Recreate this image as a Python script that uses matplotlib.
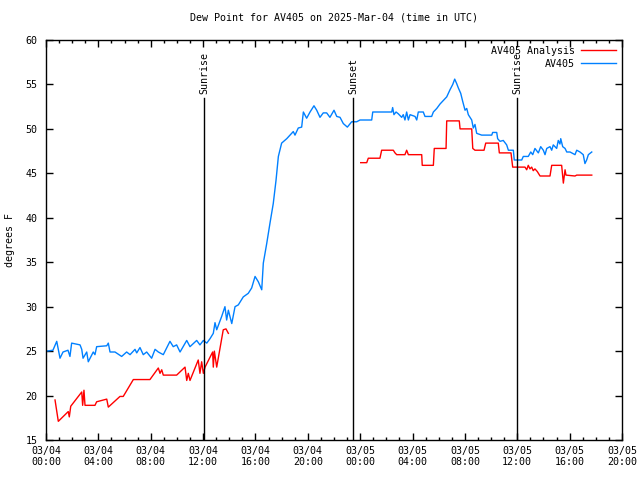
import datetime as dt
import matplotlib
matplotlib.use('Agg')
import matplotlib.pyplot as plt
import matplotlib.dates as mdates
from matplotlib.ticker import MultipleLocator

# hours after 2025-03-04 00:00 UTC
obs_hours = [0.05, 0.53, 0.82, 1.07, 1.30, 1.68, 1.83, 1.96, 2.60, 2.73, 2.83, 3.11, 3.23,
             3.61, 3.74, 3.87, 4.64, 4.76, 4.89, 5.27, 5.78, 6.16, 6.42, 6.80, 6.93, 7.18,
             7.43, 7.69, 8.07, 8.33, 8.58, 8.96, 9.47, 9.72, 9.98, 10.24, 10.75, 11.00,
             11.51, 11.76, 12.02, 12.28, 12.53, 12.78, 12.91, 13.04, 13.42, 13.67, 13.80,
             13.93, 14.19, 14.44, 14.69, 15.07, 15.45, 15.71, 15.97, 16.22, 16.48, 16.60,
             16.86, 17.11, 17.36, 17.57, 17.75, 18.00, 18.39, 18.64, 18.89, 19.02, 19.27,
             19.53, 19.66, 19.91, 20.17, 20.47, 20.68, 20.93, 21.18, 21.44, 21.69, 22.00,
             22.21, 22.46, 22.71, 23.02, 23.35, 23.73, 23.99, 24.88, 24.96, 26.41, 26.48,
             26.58, 26.74, 26.91, 27.17, 27.29, 27.42, 27.55, 27.68, 27.81, 28.19, 28.32,
             28.44, 28.82, 28.95, 29.46, 29.59, 29.85, 30.10, 30.35, 30.61, 30.86, 31.07,
             31.22, 31.37, 31.50, 31.68, 31.83, 32.01, 32.14, 32.26, 32.52, 32.64, 32.77,
             32.90, 33.28, 34.05, 34.12, 34.43, 34.50, 34.68, 34.93, 35.19, 35.32, 35.70,
             35.77, 36.34, 36.46, 36.84, 37.03, 37.18, 37.35, 37.61, 37.79, 37.99, 38.12,
             38.25, 38.50, 38.63, 38.75, 39.01, 39.13, 39.26, 39.32, 39.47, 39.65, 39.78,
             40.03, 40.16, 40.41, 40.54, 40.79, 41.04, 41.17, 41.30, 41.43, 41.69]
obs_dew = [25.0, 25.1, 26.1, 24.2, 24.9, 25.1, 24.4, 25.9, 25.7, 25.2, 24.2, 24.9, 23.8,
           24.9, 24.6, 25.5, 25.6, 25.9, 24.9, 24.9, 24.4, 24.9, 24.6, 25.2, 24.8, 25.4,
           24.6, 24.9, 24.2, 25.2, 24.9, 24.6, 26.1, 25.5, 25.7, 24.9, 26.2, 25.5,
           26.2, 25.7, 26.2, 25.9, 26.4, 27.0, 28.2, 27.4, 28.9, 30.0, 28.5,
           29.6, 28.1, 30.0, 30.2, 31.1, 31.5, 32.1, 33.4, 32.8, 31.9, 34.9,
           37.1, 39.4, 41.6, 44.2, 46.9, 48.4, 48.9, 49.3, 49.7, 49.3, 50.1,
           50.2, 51.9, 51.2, 51.9, 52.6, 52.1, 51.3, 51.8, 51.8, 51.3, 52.1,
           51.4, 51.3, 50.6, 50.2, 50.8, 50.8, 51.0, 51.0, 51.9, 51.9, 52.4,
           51.6, 51.9, 51.7, 51.3, 51.6, 51.0, 51.9, 51.0, 51.6, 51.4, 51.0,
           51.9, 51.9, 51.4, 51.4, 51.9, 52.3, 52.8, 53.2, 53.6, 54.4, 55.0,
           55.6, 55.1, 54.6, 54.0, 53.1, 52.1, 52.3, 51.6, 51.0, 50.1, 50.5,
           49.5, 49.3, 49.3, 49.6, 49.6, 48.9, 48.6, 48.7, 48.2, 47.6, 47.6,
           46.5, 46.5, 46.9, 46.9, 47.4, 47.1, 47.8, 47.3, 48.0, 47.6, 47.1,
           47.8, 48.0, 47.6, 48.2, 47.8, 48.7, 48.3, 48.9, 48.0, 47.8, 47.4,
           47.4, 47.3, 47.1, 47.6, 47.4, 47.1, 46.1, 46.5, 47.1, 47.4]

ana_hours = [0.69, 0.94, 1.70, 1.78, 1.89, 2.73, 2.80, 2.90, 2.98, 3.74, 3.87, 4.64, 4.76,
             5.65, 5.90, 6.67, 7.94, 8.58, 8.71, 8.84, 8.96, 9.98, 10.62, 10.75, 10.87,
             11.00, 11.63, 11.76, 11.89, 12.02, 12.15, 12.73, 12.78, 12.86, 13.04, 13.54,
             13.75, 13.93, 18.0,
             24.04, 24.50, 24.62, 25.51, 25.64, 26.53, 26.66, 26.79, 27.42, 27.55, 27.68,
             28.70, 28.74, 29.59, 29.66, 30.56, 30.61, 31.57, 31.63, 32.52, 32.60, 32.77,
             33.46, 33.59, 34.55, 34.63, 35.52, 35.65, 36.08, 36.59, 36.72, 36.84, 36.97,
             37.10, 37.22, 37.35, 37.53, 37.74, 38.50, 38.63, 39.39, 39.52, 39.65, 39.72,
             40.41, 40.54, 41.69]
ana_dew = [19.5, 17.1, 18.2, 17.6, 18.8, 20.4, 18.9, 20.6, 18.9, 18.9, 19.3, 19.6, 18.7,
           19.9, 19.9, 21.8, 21.8, 23.1, 22.5, 22.9, 22.3, 22.3, 23.2, 21.7, 22.5,
           21.7, 24.0, 22.5, 23.8, 22.5, 23.2, 24.9, 23.2, 25.0, 23.2, 27.4,
           27.5, 27.0, float('nan'),
           46.2, 46.2, 46.7, 46.7, 47.6, 47.6, 47.3, 47.1, 47.1, 47.6, 47.1,
           47.1, 45.9, 45.9, 47.8, 47.8, 50.9, 50.9, 50.0, 50.0, 47.8, 47.6,
           47.6, 48.4, 48.4, 47.3, 47.3, 45.7, 45.7, 45.7, 45.4, 45.9, 45.5,
           45.7, 45.3, 45.5, 45.2, 44.7, 44.7, 45.9, 45.9, 43.9, 45.4, 44.8,
           44.7, 44.8, 44.8]

sun_labels = ['Sunrise', 'Sunset', 'Sunrise']
sun_hours = [12.07, 23.45, 35.98]


def main():
    plt.rcParams['font.family'] = 'DejaVu Sans Mono'
    plt.rcParams['font.size'] = 7.2
    base = dt.datetime(2025, 3, 4)
    obs_t = [base + dt.timedelta(hours=h) for h in obs_hours]
    ana_t = [base + dt.timedelta(hours=h) for h in ana_hours]

    fig = plt.figure(figsize=(6.4, 4.8), dpi=100)
    ax = fig.add_axes([46 / 640, 40 / 480, 576 / 640, 400 / 480])

    ax.plot(ana_t, ana_dew, color='#ff0000', lw=1, label='AV405 Analysis')
    ax.plot(obs_t, obs_dew, color='#0080ff', lw=1, label='AV405')

    for name, h in zip(sun_labels, sun_hours):
        t = base + dt.timedelta(hours=h)
        ax.axvline(t, ymax=0.855, color='black', lw=1)
        ax.text(t, 53.9, name, rotation=90, ha='center', va='bottom', fontsize=7.2)

    ax.set_xlim(base, base + dt.timedelta(hours=44))
    ax.set_ylim(15, 60)
    ax.yaxis.set_major_locator(MultipleLocator(5))
    ax.xaxis.set_major_locator(mdates.HourLocator(byhour=range(0, 24, 4)))
    ax.xaxis.set_minor_locator(mdates.HourLocator())
    ax.xaxis.set_major_formatter(mdates.DateFormatter('%m/%d\n%H:%M'))
    ax.tick_params(which='both', direction='in', top=True, right=True, width=1)
    ax.tick_params(which='major', length=5, pad=4)
    ax.tick_params(which='minor', length=2.5)
    ax.tick_params(axis='y', pad=6)
    for s in ax.spines.values():
        s.set_linewidth(1)

    ax.set_title('Dew Point for AV405 on 2025-Mar-04 (time in UTC)', fontsize=7.2, pad=14)
    ax.set_ylabel('degrees F', labelpad=8)
    ax.legend(loc='upper right', frameon=False, markerfirst=False, handlelength=3.5,
              borderaxespad=0.2, labelspacing=0.3, handletextpad=0.6)

    fig.savefig('out.png', dpi=100)


if __name__ == '__main__':
    main()
